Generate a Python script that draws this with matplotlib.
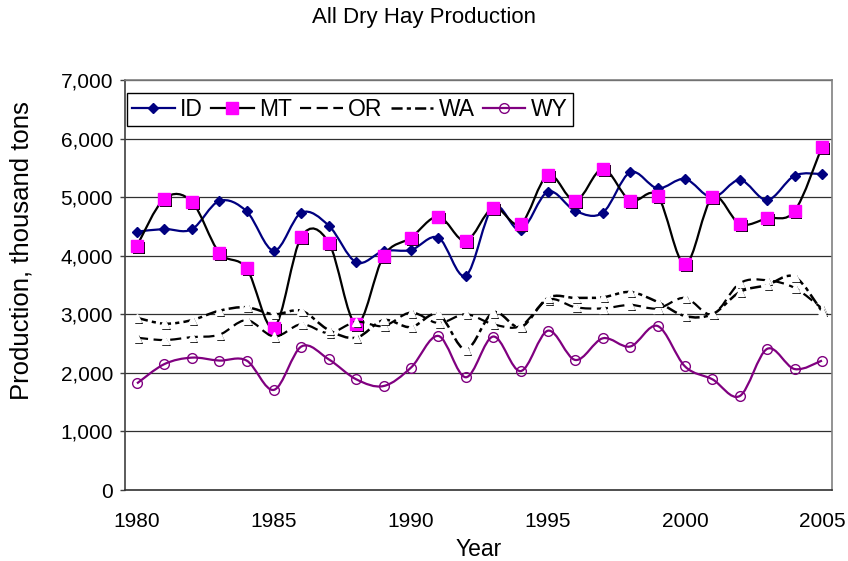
import matplotlib
matplotlib.use("Agg")
import matplotlib.pyplot as plt
import numpy as np
from matplotlib.path import Path
from matplotlib.patches import PathPatch
from matplotlib.lines import Line2D
from matplotlib.ticker import FuncFormatter, FixedLocator
import matplotlib.patheffects as pe

plt.rcParams['font.family'] = ['Liberation Sans', 'DejaVu Sans']
plt.rcParams['lines.scale_dashes'] = False

years = list(range(1980, 2006))

id_vals = [4410, 4456, 4451, 4934, 4758, 4086, 4735, 4513, 3887, 4080,
           4098, 4308, 3659, 4840, 4439, 5094, 4763, 4735, 5424, 5151,
           5310, 4991, 5293, 4951, 5367, 5395]
mt_vals = [4171, 4974, 4923, 4052, 3785, 2771, 4325, 4223, 2829, 3995,
           4308, 4667, 4251, 4820, 4542, 5378, 4934, 5480, 4940, 5020,
           3853, 4997, 4542, 4639, 4763, 5862]
or_vals = [2600, 2560, 2610, 2650, 2900, 2620, 2830, 2680, 2870, 2800,
           3030, 2850, 3000, 2830, 2800, 3250, 3120, 3100, 3160, 3100,
           3280, 3000, 3530, 3580, 3450, 3100]
wa_vals = [2940, 2840, 2900, 3060, 3120, 3000, 3060, 2730, 2600, 2900,
           2780, 3000, 2400, 3030, 2780, 3280, 3280, 3290, 3380, 3210,
           2970, 3000, 3380, 3500, 3640, 3050]
wy_vals = [1820, 2150, 2260, 2210, 2210, 1710, 2450, 2230, 1890, 1775,
           2090, 2630, 1925, 2620, 2030, 2720, 2220, 2590, 2450, 2800,
           2110, 1890, 1605, 2410, 2065, 2210]

series_names = ['ID', 'MT', 'OR', 'WA', 'WY']
y_ticks = [0, 1000, 2000, 3000, 4000, 5000, 6000, 7000]
x_ticks = [1980, 1985, 1990, 1995, 2000, 2005]


def smooth_path(xs, ys):
    P = np.column_stack([xs, ys]).astype(float)
    n = len(P)
    verts = [P[0]]
    codes = [Path.MOVETO]
    for i in range(n - 1):
        p0 = P[i - 1] if i > 0 else P[i]
        p1 = P[i]
        p2 = P[i + 1]
        p3 = P[i + 2] if i + 2 < n else P[i + 1]
        c1 = p1 + (p2 - p0) / 6.0
        c2 = p2 - (p3 - p1) / 6.0
        verts += [c1, c2, p2]
        codes += [Path.CURVE4] * 3
    return Path(np.array(verts), codes)


fig = plt.figure(figsize=(8.48, 5.61), dpi=100)
ax = fig.add_axes([125 / 848, 71 / 561, 707 / 848, 410 / 561])

ax.set_xlim(1980 - 12 / 27.4, 2005 + 10 / 27.4)
ax.set_ylim(0, 7000)

# gridlines
for yv in y_ticks[1:]:
    ax.axhline(yv, color='#303030', lw=0.9, zorder=1)

styles = {
    'ID': dict(color='#000080', lw=1.6, ls='-'),
    'MT': dict(color='black', lw=1.6, ls='-'),
    'OR': dict(color='black', lw=1.6, ls=(0, (8, 4))),
    'WA': dict(color='black', lw=1.8, ls=(0, (8, 3, 3, 3))),
    'WY': dict(color='#800080', lw=1.6, ls='-'),
}
markers = {
    'ID': dict(marker='D', markersize=5.3, markerfacecolor='#000080', markeredgecolor='#000080'),
    'MT': dict(marker='s', markersize=8.5, markerfacecolor='#FF00FF', markeredgecolor='#FF00FF'),
    'OR': dict(marker='^', markersize=6, markerfacecolor='white', markeredgecolor='white'),
    'WA': dict(marker='^', markersize=6, markerfacecolor='white', markeredgecolor='white'),
    'WY': dict(marker='o', markersize=7, markerfacecolor='none', markeredgecolor='#800080', markeredgewidth=1.0),
}
shadow = {'ID': False, 'MT': True, 'OR': True, 'WA': True, 'WY': False}
data = {'ID': id_vals, 'MT': mt_vals, 'OR': or_vals, 'WA': wa_vals, 'WY': wy_vals}

handles = []
z = 3
for name in series_names:
    st = styles[name]
    path = smooth_path(years, data[name])
    patch = PathPatch(path, facecolor='none', edgecolor=st['color'], lw=st['lw'],
                      linestyle=st['ls'], zorder=z, capstyle='butt')
    ax.add_patch(patch)
    mk = markers[name]
    ln, = ax.plot(years, data[name], linestyle='none', zorder=z + 0.5, **mk)
    if shadow[name]:
        ln.set_path_effects([pe.SimplePatchShadow(offset=(1.4, -1.4), shadow_rgbFace='black', alpha=1.0),
                             pe.Normal()])
    h = Line2D([], [], color=st['color'], lw=st['lw'], linestyle=st['ls'], **mk)
    if name in ('OR', 'WA'):
        h.set_marker('None')
    handles.append(h)
    z += 1

# spines
ax.spines['top'].set_color('#808080')
ax.spines['right'].set_color('#808080')
ax.spines['left'].set_color('#404040')
ax.spines['bottom'].set_color('#303030')
for s in ax.spines.values():
    s.set_linewidth(1.2)

ax.yaxis.set_major_locator(FixedLocator(y_ticks))
ax.yaxis.set_major_formatter(FuncFormatter(lambda v, p: f"{int(v):,}"))
ax.xaxis.set_major_locator(FixedLocator(x_ticks))
ax.tick_params(axis='y', length=3.6, width=1, pad=5, labelsize=15, color='#404040')
ax.tick_params(axis='x', length=0, pad=16, labelsize=15)

ax.set_ylabel('Production, thousand tons', fontsize=18.5, va='center')
ax.yaxis.set_label_coords(-0.1457, 0.583)
ax.set_xlabel('Year', fontsize=16.5, va='center')
ax.xaxis.set_label_coords(0.5, -0.146)

fig.text(0.5, 1 - 18 / 561, 'All Dry Hay Production', ha='center', va='center', fontsize=16)

leg = ax.legend(handles, series_names, loc='upper left', bbox_to_anchor=(0.003, 0.968),
                ncol=5, fontsize=16.5, frameon=True, fancybox=False, edgecolor='black',
                framealpha=1, borderaxespad=0, handlelength=1.85, handletextpad=0.25,
                columnspacing=0.35, borderpad=0.22)
leg.get_frame().set_linewidth(1.0)
leg.set_zorder(20)

fig.savefig('out.png', dpi=100)
